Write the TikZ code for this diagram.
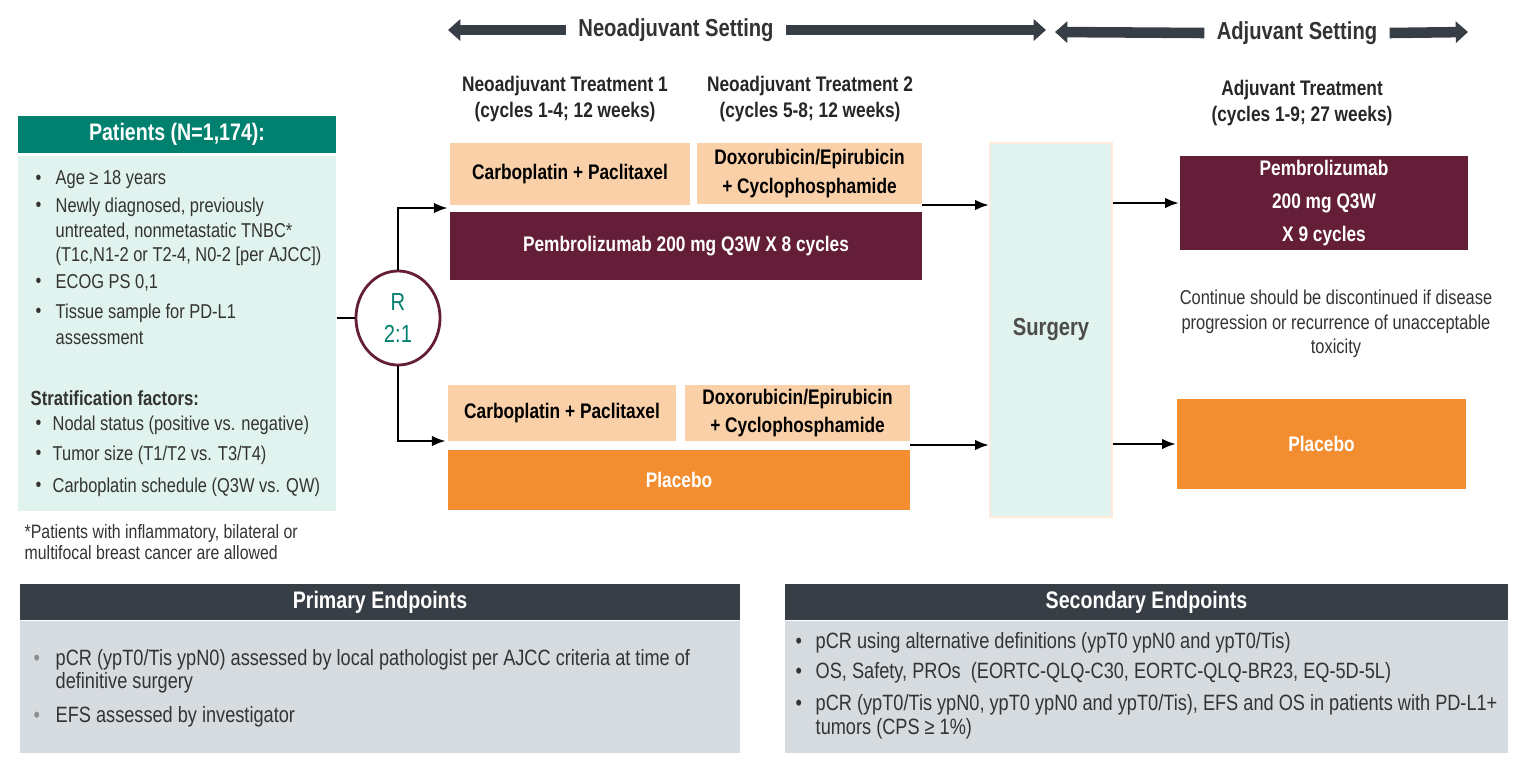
\documentclass[tikz,border=0pt]{standalone}
\usepackage{fontspec}
\setmainfont{Liberation Sans}[FakeStretch=0.82]
\usetikzlibrary{positioning,arrows.meta,shapes.geometric}
\definecolor{teal1}{RGB}{0,128,110}
\definecolor{mint}{RGB}{224,243,239}
\definecolor{peach}{RGB}{250,208,168}
\definecolor{wine}{RGB}{100,30,56}
\definecolor{orng}{RGB}{242,142,48}
\definecolor{slate}{RGB}{55,62,70}
\definecolor{fog}{RGB}{214,219,224}
\tikzset{
  box/.style={draw=none,inner sep=0pt,align=center,font=\bfseries\fontsize{6}{8}\selectfont},
  chemo/.style={box,fill=peach},
  pembro/.style={box,fill=wine,text=white},
  plac/.style={box,fill=orng,text=white},
  hdr/.style={font=\bfseries\fontsize{6}{7.4}\selectfont,align=center,text=black!85},
  txt/.style={anchor=west,inner sep=0pt,font=\fontsize{5.7}{7}\selectfont,text=black!80},
  ept/.style={anchor=west,inner sep=0pt,font=\fontsize{6.3}{7.4}\selectfont,text=black!80},
  link/.style={-{Latex[length=4pt]},thick},
  band/.style={line width=3pt,draw=slate,-{Triangle[length=3.5pt,width=6pt]}},
}
\begin{document}
\begin{tikzpicture}[x=0.01cm,y=-0.01cm]
    \useasboundingbox (0,0) rectangle (1530,772);

    % setting bands
    \node[font=\bfseries\fontsize{7}{8}\selectfont,text=black!80] (neo) at (676,30) {Neoadjuvant Setting};
    \node[font=\bfseries\fontsize{7}{8}\selectfont,text=black!80] (adj) at (1297,33) {Adjuvant Setting};
    \coordinate (n1) at (448,30); \coordinate (n2) at (1046,30);
    \coordinate (a1) at (1055,32); \coordinate (a2) at (1468,32);
    \draw[band] (neo.west) -- (n1);
    \draw[band] (neo.east) -- (n2);
    \draw[band] (adj.west) -- (a1);
    \draw[band] (adj.east) -- (a2);

    % column headings
    \node[hdr] (h1) at (565,99) {Neoadjuvant Treatment 1\\(cycles 1-4; 12 weeks)};
    \node[hdr] (h2) at (810,99) {Neoadjuvant Treatment 2\\(cycles 5-8; 12 weeks)};
    \node[hdr] (h3) at (1302,103) {Adjuvant Treatment\\(cycles 1-9; 27 weeks)};

    % patients
    \node[box,fill=teal1,text=white,font=\bfseries\fontsize{6.8}{8}\selectfont,
          minimum width=3.18cm,minimum height=0.37cm] (pat) at (177,134.5) {Patients (N=1,174):};
    \node[box,fill=mint,minimum width=3.18cm,minimum height=3.55cm,anchor=north] (patbody) at (177,155) {};
    \foreach \y in {180,207,283,313,425,455,487}
        \node[txt] at (35,\y) {\textbullet};
    \node[txt] (c1) at (55,180) {Age ≥ 18 years};
    \node[txt] (c2) at (55,207) {Newly diagnosed, previously};
    \node[txt] (c3) at (55,232) {untreated, nonmetastatic TNBC*};
    \node[txt] (c4) at (55,256) {(T1c,N1-2 or T2-4, N0-2 [per AJCC])};
    \node[txt] (c5) at (55,283) {ECOG PS 0,1};
    \node[txt] (c6) at (55,313) {Tissue sample for PD-L1};
    \node[txt] (c7) at (55,338) {assessment};
    \node[txt,font=\bfseries\fontsize{5.8}{7}\selectfont] (strat) at (30,398) {Stratification factors:};
    \node[txt] (s1) at (52,425) {Nodal status (positive vs. negative)};
    \node[txt] (s2) at (52,455) {Tumor size (T1/T2 vs. T3/T4)};
    \node[txt] (s3) at (52,487) {Carboplatin schedule (Q3W vs. QW)};
    \node[txt,font=\fontsize{5.5}{7}\selectfont] (f1) at (24,533) {*Patients with inflammatory, bilateral or};
    \node[txt,font=\fontsize{5.5}{7}\selectfont] (f2) at (24,553) {multifocal breast cancer are allowed};

    % randomisation
    \node[draw=wine,thick,ellipse,fill=white,minimum width=0.84cm,minimum height=0.94cm,inner sep=0pt,
          text=teal1,font=\fontsize{7}{9}\selectfont,align=center] (rand) at (398,318) {R\\2:1};
    \draw[thick] (patbody.east |- rand) -- (rand);

    % pembrolizumab arm
    \node[chemo,minimum width=2.40cm,minimum height=0.62cm] (cp1) at (570,174) {Carboplatin + Paclitaxel};
    \node[chemo,minimum width=2.25cm,minimum height=0.61cm] (dc1) at (809.5,173.5) {Doxorubicin/Epirubicin\\+ Cyclophosphamide};
    \node[pembro,minimum width=4.72cm,minimum height=0.68cm] (pem1) at (686,246) {Pembrolizumab 200 mg Q3W X 8 cycles};
    \coordinate (in1) at (448,208);
    \draw[link] (rand.north) |- (in1);

    % placebo arm
    \node[chemo,minimum width=2.28cm,minimum height=0.56cm] (cp2) at (562,413) {Carboplatin + Paclitaxel};
    \node[chemo,minimum width=2.25cm,minimum height=0.56cm] (dc2) at (797.5,413) {Doxorubicin/Epirubicin\\+ Cyclophosphamide};
    \node[plac,minimum width=4.62cm,minimum height=0.60cm] (pl1) at (679,480) {Placebo};
    \coordinate (in2) at (446,441);
    \draw[link] (rand.south) |- (in2);

    % surgery and adjuvant
    \node[box,fill=mint,draw=peach!40,minimum width=1.22cm,minimum height=3.74cm,
          font=\bfseries\fontsize{7}{8}\selectfont,text=black!70] (surg) at (1051,330) {Surgery};
    \node[pembro,minimum width=2.88cm,minimum height=0.94cm,font=\bfseries\fontsize{6}{9.4}\selectfont] (pem2) at (1324,203)
      {Pembrolizumab\\200 mg Q3W\\X 9 cycles};
    \node[plac,minimum width=2.89cm,minimum height=0.90cm] (pl2) at (1321.5,444) {Placebo};
    \node[align=center,font=\fontsize{5.7}{7}\selectfont,text=black!80] (cont) at (1336,324)
      {Continue should be discontinued if disease\\progression or recurrence of unacceptable\\toxicity};

    \coordinate (o1) at (922,205); \coordinate (o2) at (910,445);
    \draw[link] (o1) -- (surg.west |- o1);
    \draw[link] (o2) -- (surg.west |- o2);
    \draw[link] (surg.east |- pem2) -- (pem2);
    \draw[link] (surg.east |- pl2) -- (pl2);

    % endpoints
    \node[box,fill=slate,text=white,minimum width=7.20cm,minimum height=0.36cm,font=\bfseries\fontsize{6.8}{8}\selectfont]
      (prim) at (380,602) {Primary Endpoints};
    \node[box,fill=fog,minimum width=7.20cm,minimum height=1.32cm,anchor=north] (primbody) at (380,620) {};
    \node[ept,text=black!45] at (33,660) {\textbullet};
    \node[ept,text=black!45] at (33,717) {\textbullet};
    \node[ept] (p1) at (55,660) {pCR (ypT0/Tis ypN0) assessed by local pathologist per AJCC criteria at time of};
    \node[ept] (p2) at (55,683) {definitive surgery};
    \node[ept] (p3) at (55,717) {EFS assessed by investigator};

    \node[box,fill=slate,text=white,minimum width=7.23cm,minimum height=0.36cm,font=\bfseries\fontsize{6.8}{8}\selectfont]
      (sec) at (1146.5,602) {Secondary Endpoints};
    \node[box,fill=fog,minimum width=7.23cm,minimum height=1.32cm,anchor=north] (secbody) at (1146.5,620) {};
    \foreach \y in {643,673,705}
        \node[ept] at (795,\y) {\textbullet};
    \node[ept] (e1) at (815,643) {pCR using alternative definitions (ypT0 ypN0 and ypT0/Tis)};
    \node[ept] (e2) at (815,673) {OS, Safety, PROs\ \ (EORTC-QLQ-C30, EORTC-QLQ-BR23, EQ-5D-5L)};
    \node[ept] (e3) at (815,705) {pCR (ypT0/Tis ypN0, ypT0 ypN0 and ypT0/Tis), EFS and OS in patients with PD-L1+};
    \node[ept] (e4) at (815,729) {tumors (CPS ≥ 1\%)};
\end{tikzpicture}
\end{document}
